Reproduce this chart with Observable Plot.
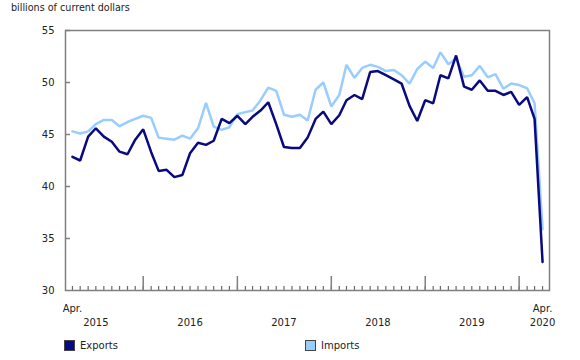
<!DOCTYPE html>
<html>
<head>
<meta charset="utf-8">
<script src="https://cdn.jsdelivr.net/npm/d3@7"></script>
<script src="https://cdn.jsdelivr.net/npm/@observablehq/plot@0.6"></script>
<style>
  html, body { margin: 0; padding: 0; background: #fff; }
  body { width: 580px; height: 360px; position: relative; overflow: hidden; font-family: "DejaVu Sans", Verdana, sans-serif; color: #222; }
  #title { position: absolute; left: 11px; top: 2px; font-size: 9.6px; }
  #chart { position: absolute; left: 0; top: 0; }
  .leg { position: absolute; top: 340px; font-size: 10px; display: flex; align-items: center; }
  .sw { width: 9px; height: 9px; border: 1px solid #444; margin-right: 5px; }
</style>
</head>
<body>
<div id="chart"></div>
<div id="title">billions of current dollars</div>
<div class="leg" style="left:64px"><span class="sw" style="background:#0a0a80"></span>Exports</div>
<div class="leg" style="left:305px"><span class="sw" style="background:#99ccff"></span>Imports</div>
<script>
const startMonth = "2015-04";
const endMonth = "2020-04";
const exports = [42.85,42.5,44.8,45.6,44.8,44.3,43.35,43.1,44.5,45.5,43.3,41.5,
  41.6,40.9,41.1,43.2,44.2,44.0,44.4,46.5,46.1,46.8,46.0,46.7,
  47.3,48.1,46.0,43.8,43.7,43.7,44.7,46.5,47.2,46.0,46.85,48.3,
  48.8,48.4,51.0,51.1,50.7,50.3,49.9,47.75,46.3,48.3,48.0,50.7,
  50.4,52.6,49.6,49.3,50.2,49.2,49.2,48.8,49.1,47.85,48.6,46.5,
  32.75];
const imports = [45.3,45.1,45.3,46.0,46.4,46.4,45.8,46.2,46.5,46.8,46.6,44.7,
  44.6,44.5,44.9,44.6,45.6,48.05,45.75,45.45,45.7,46.95,47.15,47.3,
  48.3,49.5,49.2,46.9,46.7,46.9,46.35,49.3,50.0,47.7,48.8,51.7,
  50.45,51.4,51.7,51.5,51.1,51.2,50.7,49.9,51.3,52.0,51.4,52.9,
  51.75,52.3,50.55,50.7,51.6,50.5,50.8,49.4,49.9,49.75,49.45,48.0,
  35.9];
const yTicks = [30, 35, 40, 45, 50, 55];
const monthLabelText = ["Apr.", "Apr."];
const monthLabelAt = ["2015-04", "2020-04"];
const yearLabelText = ["2015", "2016", "2017", "2018", "2019", "2020"];
const yearLabelAt = ["2015-07", "2016-07", "2017-07", "2018-07", "2019-07", "2020-04"];

const parse = d3.utcParse("%Y-%m");
const months = d3.utcMonth.range(parse(startMonth), d3.utcMonth.offset(parse(endMonth), 1));
const table = months.map((d, i) => ({date: d, exports: exports[i], imports: imports[i]}));
const janMonths = months.filter(d => d.getUTCMonth() === 0);
const monthLabels = monthLabelText.map((t, i) => ({date: parse(monthLabelAt[i]), text: t}));
const yearLabels = yearLabelText.map((t, i) => ({date: parse(yearLabelAt[i]), text: t}));

const gray = "#808080";
const W = 580, H = 330, mL = 65, mR = 31, mT = 30, mB = 40;
const frameH = H - mT - mB, frameW = W - mL - mR;

const chart = Plot.plot({
  width: W, height: H,
  marginLeft: mL, marginRight: mR, marginTop: mT, marginBottom: mB,
  style: {fontFamily: "DejaVu Sans, Verdana, sans-serif", fontSize: "10px", color: "#222", background: "#fff"},
  x: {type: "utc", domain: [d3.utcDay.offset(months[0], -27), d3.utcDay.offset(months[months.length - 1], 27)], axis: null},
  y: {domain: [30, 55], axis: null},
  marks: [
    Plot.axisY({ticks: yTicks, tickSize: 0, tickPadding: 11, label: null, fill: "#222"}),
    Plot.ruleY(yTicks.slice(1), {stroke: gray, strokeWidth: 1.5, insetRight: frameW - 5}),
    Plot.ruleX(months, {x: d => d, stroke: "#6a6a6a", strokeWidth: 1.2, insetTop: frameH - 4}),
    Plot.ruleX(janMonths, {x: d => d, stroke: gray, strokeWidth: 1.5, insetTop: frameH - 14}),
    Plot.frame({stroke: gray, strokeWidth: 1.5}),
    Plot.lineY(table, {x: "date", y: "imports", stroke: "#99ccff", strokeWidth: 2.5, strokeLinejoin: "miter"}),
    Plot.lineY(table, {x: "date", y: "exports", stroke: "#0a0a80", strokeWidth: 2.5, strokeLinejoin: "miter"}),
    Plot.text(monthLabels, {x: "date", text: "text", frameAnchor: "bottom", dy: 18, lineAnchor: "middle", fill: "#222"}),
    Plot.text(yearLabels, {x: "date", text: "text", frameAnchor: "bottom", dy: 32, lineAnchor: "middle", fill: "#222"})
  ]
});
document.getElementById("chart").appendChild(chart);
</script>
</body>
</html>
